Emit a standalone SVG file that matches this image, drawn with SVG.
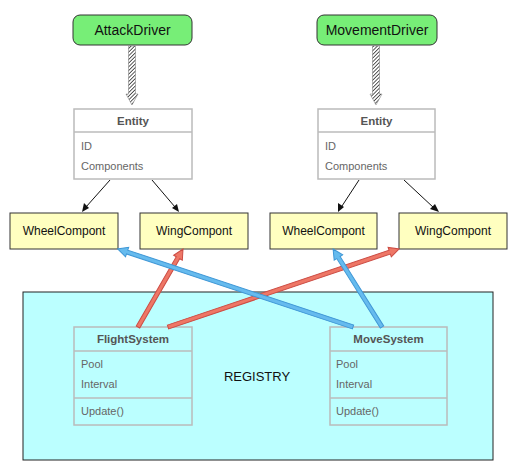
<svg xmlns="http://www.w3.org/2000/svg" width="515" height="468" viewBox="0 0 515 468">
<defs>
<pattern id="hatch" patternUnits="userSpaceOnUse" width="2.6" height="2.6" patternTransform="rotate(45)">
<rect width="2.6" height="2.6" fill="#ffffff"/>
<line x1="0" y1="0" x2="0" y2="2.6" stroke="#222" stroke-width="1.5"/>
</pattern>
</defs>
<style>
text{font-family:"Liberation Sans",Arial,sans-serif}
.drv{fill:#77ee77;stroke:#333;stroke-width:1}
.drvt{font-size:14px;fill:#111;text-anchor:middle}
.cls{fill:#ffffff;stroke:#bbbbbb;stroke-width:1.5}
.sys{fill:#bbffff;stroke:#bbbbbb;stroke-width:1.5}
.div{stroke:#bbbbbb;stroke-width:1.5}
.ttl{font-size:11.5px;font-weight:bold;fill:#555;text-anchor:middle}
.fld{font-size:11px;fill:#666}
.comp{fill:#ffffc0;stroke:#333;stroke-width:1}
.compt{font-size:12px;fill:#111;text-anchor:middle}
.hat{fill:url(#hatch);stroke:#777;stroke-width:0.5}
.red{fill:#ee7766;stroke:#cc4c44;stroke-width:1}
.blue{fill:#66bbee;stroke:#3f97d6;stroke-width:1}
.thin{stroke:#111;stroke-width:1;fill:none}
</style>

<g id="registry">
<rect x="23" y="292" width="470" height="168" fill="#bbffff" stroke="#222" stroke-width="1"/>
<text x="257" y="381" font-size="13" fill="#111" text-anchor="middle">REGISTRY</text>
</g>

<g id="attackDriver">
<rect class="drv" x="73" y="15" width="119" height="30" rx="7"/>
<text class="drvt" x="132.5" y="35">AttackDriver</text>
</g>
<g id="movementDriver">
<rect class="drv" x="317" y="15" width="120" height="30" rx="7"/>
<text class="drvt" x="377" y="35">MovementDriver</text>
</g>

<g id="entityLeft">
<rect class="cls" x="74" y="109" width="118" height="70"/>
<line class="div" x1="74" y1="132" x2="192" y2="132"/>
<text class="ttl" x="133" y="125">Entity</text>
<text class="fld" x="81" y="150">ID</text>
<text class="fld" x="81" y="170">Components</text>
</g>
<g id="entityRight">
<rect class="cls" x="318" y="109" width="117" height="70"/>
<line class="div" x1="318" y1="132" x2="435" y2="132"/>
<text class="ttl" x="376.5" y="125">Entity</text>
<text class="fld" x="325" y="150">ID</text>
<text class="fld" x="325" y="170">Components</text>
</g>

<g id="wheelLeft">
<rect class="comp" x="10" y="213" width="108" height="36"/>
<text class="compt" x="64" y="235">WheelCompont</text>
</g>
<g id="wingLeft">
<rect class="comp" x="140" y="213" width="108" height="36"/>
<text class="compt" x="194" y="235">WingCompont</text>
</g>
<g id="wheelRight">
<rect class="comp" x="270" y="213" width="107" height="36"/>
<text class="compt" x="323.5" y="235">WheelCompont</text>
</g>
<g id="wingRight">
<rect class="comp" x="399" y="213" width="108" height="36"/>
<text class="compt" x="453" y="235">WingCompont</text>
</g>

<g id="flightSystem">
<rect class="sys" x="74" y="327" width="118" height="98"/>
<line class="div" x1="74" y1="351" x2="192" y2="351"/>
<line class="div" x1="74" y1="398" x2="192" y2="398"/>
<text class="ttl" x="133" y="343">FlightSystem</text>
<text class="fld" x="81" y="368">Pool</text>
<text class="fld" x="81" y="388">Interval</text>
<text class="fld" x="81" y="415">Update()</text>
</g>
<g id="moveSystem">
<rect class="sys" x="330" y="327" width="117" height="98"/>
<line class="div" x1="330" y1="351" x2="447" y2="351"/>
<line class="div" x1="330" y1="398" x2="447" y2="398"/>
<text class="ttl" x="388.5" y="343">MoveSystem</text>
<text class="fld" x="336" y="368">Pool</text>
<text class="fld" x="336" y="388">Interval</text>
<text class="fld" x="336" y="415">Update()</text>
</g>

<g id="connectors">
<polygon class="hat" points="128.5,46 135.5,46 135.5,94 138,94 132,105 126,94 128.5,94"/>
<polygon class="hat" points="372.5,46 379.5,46 379.5,94 382,94 376,105 370,94 372.5,94"/>

<line class="thin" x1="110" y1="180" x2="86" y2="207"/>
<polygon points="82,212 84,203 89,208" fill="#111"/>
<line class="thin" x1="152" y1="180" x2="175" y2="207"/>
<polygon points="179,212 172,208 177,204" fill="#111"/>
<line class="thin" x1="359" y1="180" x2="342" y2="206"/>
<polygon points="338,212 338,203 344,207" fill="#111"/>
<line class="thin" x1="404" y1="180" x2="434" y2="208"/>
<polygon points="439,212 430,209 435,204" fill="#111"/>

<g transform="translate(138,327) rotate(-60)"><polygon class="red" points="0,-2 80,-2 80,-5 90,0 80,5 80,2 0,2"/></g>
<g transform="translate(168,327) rotate(-18.66)"><polygon class="red" points="0,-2 234,-2 234,-5 244,0 234,5 234,2 0,2"/></g>
<g transform="translate(353,327) rotate(-161.64)"><polygon class="blue" points="0,-2 238,-2 238,-5 248,0 238,5 238,2 0,2"/></g>
<g transform="translate(382,327) rotate(-122.1)"><polygon class="blue" points="0,-2 82,-2 82,-5 92,0 82,5 82,2 0,2"/></g>
</g>
</svg>
